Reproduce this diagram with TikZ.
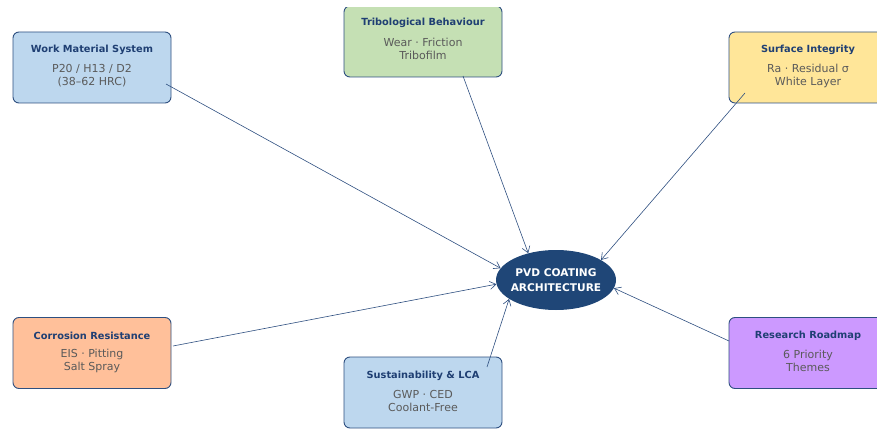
\documentclass[tikz,border=0pt]{standalone}
\usepackage{fontspec}
\setmainfont{DejaVu Sans}
\usetikzlibrary{shapes.geometric,arrows.meta}
\definecolor{edge}{HTML}{2E4F80}
\definecolor{ttl}{HTML}{1F3F73}
\definecolor{body}{HTML}{5A5A5A}
\definecolor{cblue}{HTML}{BDD7EE}
\definecolor{cgreen}{HTML}{C5E0B4}
\definecolor{cyellow}{HTML}{FFE699}
\definecolor{corange}{HTML}{FFC09A}
\definecolor{cpurple}{HTML}{CC99FF}
\definecolor{hub}{HTML}{1F4677}
\tikzset{
  card/.style={draw=edge, line width=0.9pt, rounded corners=6pt, minimum width=158pt, minimum height=71pt, inner sep=0pt},
  ttltext/.style={font=\fontsize{9.8}{11}\selectfont\bfseries, text=ttl},
  bodytext/.style={font=\fontsize{11}{13}\selectfont, text=body, align=center},
  link/.style={draw=edge, line width=0.6pt, -{Straight Barb[length=6pt,width=8pt,line width=0.6pt]}},
}
\begin{document}
\begin{tikzpicture}[x=1pt,y=-1pt]
\useasboundingbox (0,0) rectangle (877,430);
\begin{scope}
\clip (0,8) rectangle (877,430);
% boxes
\node[card, fill=cblue] (wm) at (92,67.5) {};
\node[card, fill=cgreen] (tb) at (423,41.5) {};
\node[card, fill=cyellow] (si) at (808,67.5) {};
\node[card, fill=corange] (cr) at (92,353) {};
\node[card, fill=cblue] (su) at (423,392.5) {};
\node[card, fill=cpurple] (rr) at (808,353) {};
% texts
\node[ttltext] (wmt) at (92,49.5) {Work Material System};
\node[bodytext] (wmb) at (92,75.5) {P20 / H13 / D2\\(38–62 HRC)};
\node[ttltext] (tbt) at (423,22.5) {Tribological Behaviour};
\node[bodytext] (tbb) at (423,48.5) {Wear · Friction\\Tribofilm};
\node[ttltext] (sit) at (808,49.5) {Surface Integrity};
\node[bodytext] (sib) at (808,75.5) {Ra · Residual σ\\White Layer};
\node[ttltext] (crt) at (92,335.5) {Corrosion Resistance};
\node[bodytext] (crb) at (92,361) {EIS · Pitting\\Salt Spray};
\node[ttltext] (sut) at (423,375.5) {Sustainability \& LCA};
\node[bodytext] (sub) at (423,401) {GWP · CED\\Coolant-Free};
\node[ttltext] (rrt) at (808,335.5) {Research Roadmap};
\node[bodytext] (rrb) at (808,361) {6 Priority\\Themes};
% hub
\node[ellipse, fill=hub, minimum width=120pt, minimum height=60pt, inner sep=0pt] (hub) at (556,280) {};
\node[font=\fontsize{10.6}{15}\selectfont\bfseries, text=white, align=center, inner sep=0pt] (hubt) at (hub.center)
  {PVD COATING\\ARCHITECTURE};
% start points
\coordinate (s1) at (166,84);
\coordinate (s2) at (463,76);
\coordinate (s3) at (745,93);
\coordinate (s4) at (173,346);
\coordinate (s5) at (487,367);
\coordinate (s6) at (729,341);
\draw[link] (s1) -- (hub.168.5);
\draw[link] (s2) -- (hub.136.8);
\draw[link] (s3) -- (hub.24);
\draw[link] (s4) -- (hub.184.7);
\draw[link] (s5) -- (hub.202.6);
\draw[link] (s6) -- (hub.352.4);
\end{scope}
\end{tikzpicture}
\end{document}
